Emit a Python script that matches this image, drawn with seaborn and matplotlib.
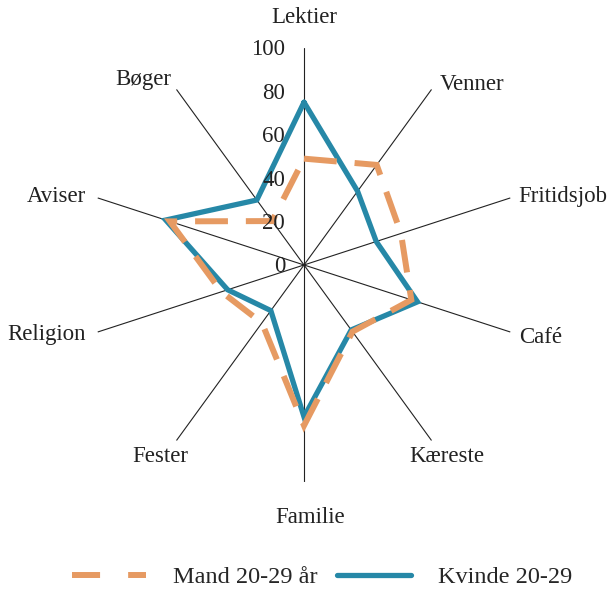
import numpy as np
import matplotlib
matplotlib.use("Agg")
import matplotlib.pyplot as plt
import seaborn as sns
from matplotlib.lines import Line2D

# Data
categories = ['Lektier', 'Venner', 'Fritidsjob', 'Café', 'Kæreste',
              'Familie', 'Fester', 'Religion', 'Aviser', 'Bøger']
mand = [49, 57, 47, 52, 38, 74, 33, 40, 65, 25]
kvinde = [75, 42, 35, 55, 37, 70, 26, 37, 67, 37]
r_ticks = [0, 20, 40, 60, 80, 100]

# label offsets (pixels) from the end of each spoke, plus alignment
label_pos = {
    'Lektier': (0, 30, 'center'),
    'Venner': (8, 5, 'left'),
    'Fritidsjob': (8, 1, 'left'),
    'Café': (9, -5, 'left'),
    'Kæreste': (15, -16, 'center'),
    'Familie': (6, -36, 'center'),
    'Fester': (-16, -16, 'center'),
    'Religion': (-12, -2, 'right'),
    'Aviser': (-12, 1, 'right'),
    'Bøger': (-5, 10, 'right'),
}

sns.set_theme(style='white')
plt.rcParams['font.family'] = ['Liberation Serif', 'DejaVu Serif']
plt.rcParams['lines.solid_joinstyle'] = 'miter'
plt.rcParams['lines.dash_joinstyle'] = 'miter'

orange = '#E69A62'
blue = '#2688A7'
fs = 16.5

fig = plt.figure(figsize=(6.11, 5.90), dpi=100)
ax = fig.add_axes([0.1424, 0.1831, 0.7103, 0.7356], projection='polar')
ax.set_theta_zero_location('N')
ax.set_theta_direction(-1)

theta = np.linspace(0, 2 * np.pi, len(categories), endpoint=False)
theta_closed = np.append(theta, 2 * np.pi)

sns.lineplot(x=theta_closed, y=kvinde + kvinde[:1], sort=False, estimator=None,
             color=blue, lw=3.8, ax=ax)
sns.lineplot(x=theta_closed, y=mand + mand[:1], sort=False, estimator=None,
             color=orange, lw=4.3, dashes=False, ax=ax)
ax.lines[-1].set_dashes((5.5, 3.0))

ax.set_ylim(0, 100)
ax.set_xticks(theta)
ax.set_xticklabels([])
ax.set_yticks(r_ticks)
ax.set_yticklabels([])
ax.yaxis.grid(False)
ax.xaxis.grid(True, color='#222222', lw=0.8)
ax.spines['polar'].set_visible(False)
ax.set_xlabel('')
ax.set_ylabel('')

# radial scale labels along the Lektier spoke
for t in r_ticks:
    ax.annotate(str(t), xy=(0, t), xytext=(-19, -2), textcoords='offset pixels',
                ha='right', va='center', fontsize=fs, color='#222222')

# category labels at the end of each spoke
for ang, cat in zip(theta, categories):
    dx, dy, ha = label_pos[cat]
    ax.annotate(cat, xy=(ang, 100), xytext=(dx, dy), textcoords='offset pixels',
                ha=ha, va='center', fontsize=fs, color='#222222',
                annotation_clip=False)

handles = [
    Line2D([], [], color=orange, lw=4.3, dashes=(4.7, 4.7)),
    Line2D([], [], color=blue, lw=3.8),
]
fig.legend(handles, ['Mand 20-29 år', 'Kvinde 20-29'], loc='center',
           bbox_to_anchor=(0.527, 0.022), ncol=2, frameon=False, fontsize=17.5,
           handlelength=3.05, handletextpad=1.1, columnspacing=0.8)

fig.savefig('out.png', dpi=100)
